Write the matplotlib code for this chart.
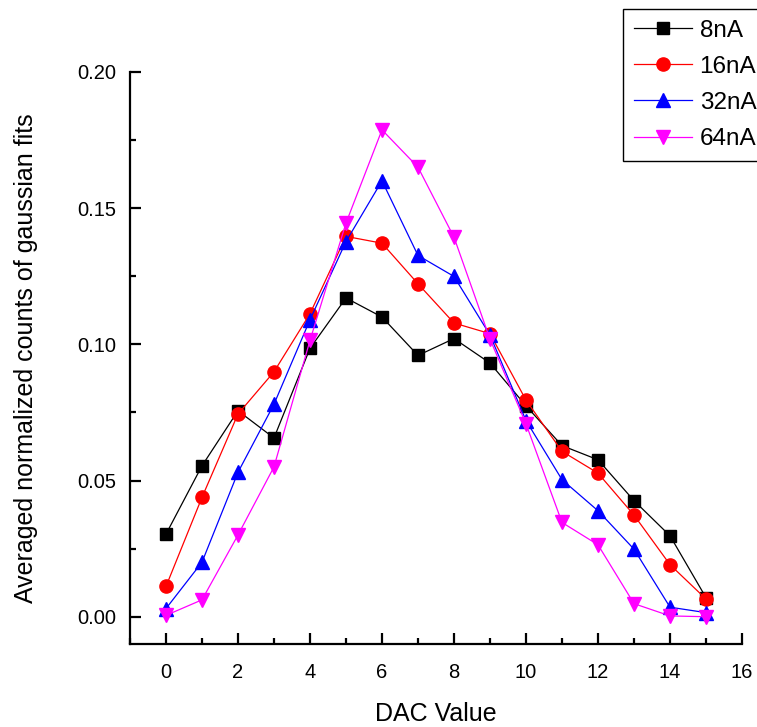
import matplotlib
matplotlib.use('Agg')
import matplotlib.pyplot as plt
from matplotlib.ticker import MultipleLocator

plt.rcParams['font.family'] = ['Liberation Sans', 'DejaVu Sans']

# DAC scan results, one series per beam current
dac = list(range(16))
counts_8na = [0.0303, 0.0554, 0.0756, 0.0656, 0.0985, 0.117, 0.110, 0.0959,
              0.1021, 0.0931, 0.0774, 0.0628, 0.0576, 0.0426, 0.0297, 0.0070]
counts_16na = [0.0111, 0.0438, 0.0744, 0.0899, 0.1112, 0.1396, 0.1371, 0.1222,
               0.1078, 0.1039, 0.0795, 0.0607, 0.0527, 0.0373, 0.0191, 0.0065]
counts_32na = [0.0030, 0.0200, 0.0530, 0.0780, 0.1090, 0.1377, 0.1600, 0.1326,
               0.1249, 0.1034, 0.0720, 0.0503, 0.0389, 0.0248, 0.0035, 0.0015]
counts_64na = [0.0005, 0.0062, 0.0300, 0.0550, 0.1014, 0.1445, 0.1787, 0.1650,
               0.1393, 0.1019, 0.0708, 0.0346, 0.0264, 0.0048, 0.0003, 0.0000]
labels = ['8nA', '16nA', '32nA', '64nA']

series = [counts_8na, counts_16na, counts_32na, counts_64na]
colors = ['black', 'red', 'blue', 'magenta']
markers = ['s', 'o', '^', 'v']
sizes = [8.5, 9.5, 10, 10]

fig = plt.figure(figsize=(7.57, 7.27), dpi=100)
ax = fig.add_axes([0.1717, 0.1142, 0.8085, 0.787])

for y, c, m, ms, lab in zip(series, colors, markers, sizes, labels):
    ax.plot(dac, y, color=c, marker=m, markersize=ms, linewidth=0.9,
            markeredgecolor=c, markerfacecolor=c, label=lab, clip_on=False)

ax.set_xlim(-1, 16)
ax.set_ylim(-0.01, 0.20)
ax.xaxis.set_major_locator(MultipleLocator(2))
ax.xaxis.set_minor_locator(MultipleLocator(1))
ax.yaxis.set_major_locator(MultipleLocator(0.05))
ax.yaxis.set_minor_locator(MultipleLocator(0.025))
ax.set_yticks([0.0, 0.05, 0.10, 0.15, 0.20])
ax.set_yticklabels(['0.00', '0.05', '0.10', '0.15', '0.20'])

for side in ['top', 'right']:
    ax.spines[side].set_visible(False)
for side in ['left', 'bottom']:
    ax.spines[side].set_linewidth(1.6)

ax.tick_params(which='major', direction='in', length=8, width=1.6,
               labelsize=14.5, pad=14)
ax.tick_params(which='minor', direction='in', length=4.5, width=1.6)
ax.tick_params(axis='y', which='major', pad=10)

ax.set_xlabel('DAC Value', fontsize=18, labelpad=14)
ax.set_ylabel('Averaged normalized counts of gaussian fits', fontsize=18,
              labelpad=28)

# legend sits partly outside the canvas on the right
leg = fig.legend(loc='upper left', bbox_to_anchor=(0.823, 0.988),
                 borderaxespad=0, fontsize=17.5, handlelength=2.4,
                 handletextpad=0.3, labelspacing=0.58, borderpad=0.45,
                 fancybox=False, edgecolor='black', framealpha=1)
leg.get_frame().set_linewidth(1.0)

fig.savefig('out.png', dpi=100)
